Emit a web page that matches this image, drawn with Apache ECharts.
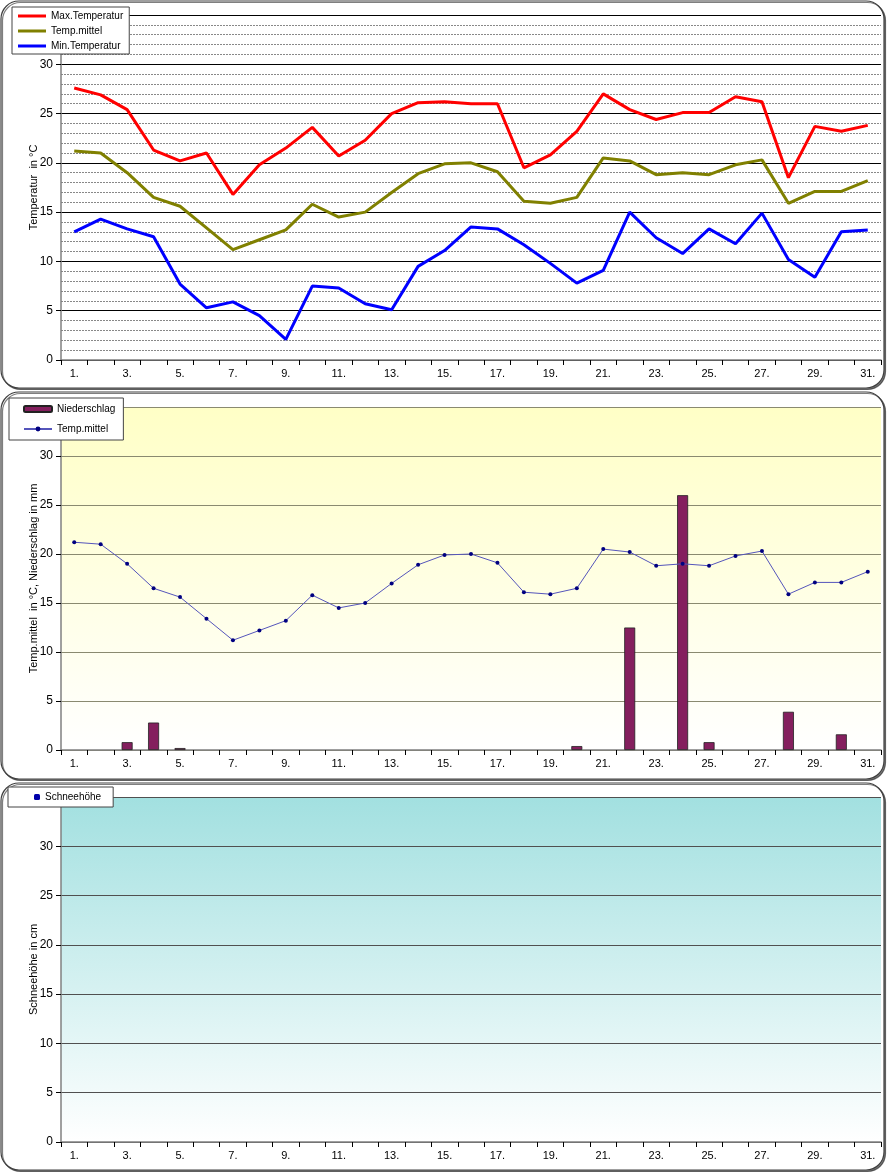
<!DOCTYPE html>
<html><head><meta charset="utf-8">
<script src="https://cdn.jsdelivr.net/npm/echarts@6/dist/echarts.min.js"></script>
<style>html,body{margin:0;padding:0;background:#fff}#c{width:887px;height:1173px}</style>
</head><body><div id="c"></div>
<script>
const days = Array.from({length:31},(_,i)=>String(i+1));
const tMax = [27.6,26.9,25.4,21.3,20.2,21.0,16.8,19.8,21.5,23.6,20.7,22.3,25.0,26.1,26.2,26.0,26.0,19.5,20.8,23.2,27.0,25.4,24.4,25.1,25.1,26.7,26.2,18.5,23.7,23.2,23.8];
const tMean = [21.2,21.0,19.0,16.5,15.6,13.4,11.2,12.2,13.2,15.8,14.5,15.0,17.0,18.9,19.9,20.0,19.1,16.1,15.9,16.5,20.5,20.2,18.8,19.0,18.8,19.8,20.3,15.9,17.1,17.1,18.2];
const tMin = [13.0,14.3,13.3,12.5,7.7,5.3,5.9,4.5,2.1,7.5,7.3,5.7,5.1,9.5,11.1,13.5,13.3,11.7,9.8,7.8,9.1,15.0,12.4,10.8,13.3,11.8,14.9,10.2,8.4,13.0,13.2];
const precip = [0,0,0.8,2.8,0.2,0,0,0,0,0,0,0,0,0,0,0,0,0,0,0.4,0,12.5,0,26.0,0.8,0,0,3.9,0,1.6,0];
const snow = [0,0,0,0,0,0,0,0,0,0,0,0,0,0,0,0,0,0,0,0,0,0,0,0,0,0,0,0,0,0,0];
const yTicks = [0,5,10,15,20,25,30];

const font = 'Liberation Sans, Arial, sans-serif';
const chart = echarts.init(document.getElementById('c'), null, {renderer:'canvas'});
const noZero = arr => arr.map(v => v === 0 ? null : v);

function xAxis(gi){
  return {type:'category', gridIndex:gi, data:days, boundaryGap:true,
    axisLine:{lineStyle:{color:'#808080',width:1.5}},
    axisTick:{show:true,interval:0,length:5,inside:false,lineStyle:{color:'#000'}},
    axisLabel:{interval:1,formatter:v=>v+'.',color:'#000',fontFamily:font,fontSize:11,margin:8}};
}
function yAxis(gi,name,major,minor){
  return {type:'value', gridIndex:gi, min:0, max:35, interval:5, name:name,
    nameLocation:'middle', nameGap:22, nameMoveOverlap:false,
    nameTextStyle:{color:'#000',fontFamily:font,fontSize:11},
    axisLine:{show:true,lineStyle:{color:'#808080',width:1.5}},
    axisTick:{show:true,length:5,lineStyle:{color:'#000'}},
    axisLabel:{color:'#000',fontFamily:font,fontSize:12,margin:8,
      formatter:v=>yTicks.indexOf(v)>=0?String(v):''},
    splitLine:{show:true,lineStyle:major},
    minorTick:{show:false,splitNumber:5},
    minorSplitLine:{show:!!minor,lineStyle:minor||{}}};
}

const panel = (y)=>({type:'rect',z:-10,shape:{x:1,y:y,width:883,height:387,r:18},
  style:{fill:'#fff',stroke:'#404040',lineWidth:1.2,shadowColor:'rgba(0,0,0,0.5)',shadowOffsetX:1.5,shadowOffsetY:1.5,shadowBlur:0}});

const legendText = {color:'#000',fontFamily:font,fontSize:10};

chart.setOption({
  animation:false,
  backgroundColor:'#fff',
  graphic:[panel(1),panel(392),panel(783)],
  grid:[
    {left:61,top:15,width:820,height:345,containLabel:false},
    {left:61,top:407,width:820,height:343,show:true,borderWidth:0,
      backgroundColor:new echarts.graphic.LinearGradient(0,0,0,1,[{offset:0,color:'#FFFFC6'},{offset:1,color:'#FFFFFF'}])},
    {left:61,top:797,width:820,height:345,show:true,borderWidth:0,
      backgroundColor:new echarts.graphic.LinearGradient(0,0,0,1,[{offset:0,color:'#A2E0E0'},{offset:1,color:'#FFFFFF'}])}
  ],
  xAxis:[xAxis(0),xAxis(1),xAxis(2)],
  yAxis:[
    yAxis(0,'Temperatur  in °C',{color:'#000',width:1.2},{color:'#888',type:[2,1],width:1}),
    yAxis(1,'Temp.mittel  in °C, Niederschlag in mm',{color:'#8a8a70',width:1.2},null),
    yAxis(2,'Schneehöhe in cm',{color:'#505050',width:1.2},null)
  ],
  legend:[
    {orient:'vertical',left:12,top:7,padding:[4,6,3,6],itemGap:5,itemWidth:28,itemHeight:3,icon:'rect',
      backgroundColor:'#fff',borderColor:'#444',borderWidth:1,textStyle:legendText,
      data:['Max.Temperatur','Temp.mittel ','Min.Temperatur']},
    {orient:'vertical',left:9,top:398,padding:[6,8,6,14],itemGap:10,itemWidth:28,itemHeight:6,
      backgroundColor:'#fff',borderColor:'#444',borderWidth:1,textStyle:legendText,
      data:['Niederschlag','Temp.mittel']},
    {orient:'vertical',left:8,top:787,padding:[5,12,5,26],itemWidth:6,itemHeight:6,
      backgroundColor:'#fff',borderColor:'#444',borderWidth:1,textStyle:legendText,
      data:['Schneehöhe']}
  ],
  series:[
    {name:'Max.Temperatur',type:'line',xAxisIndex:0,yAxisIndex:0,data:tMax,symbol:'none',
      lineStyle:{color:'#FF0000',width:3},itemStyle:{color:'#FF0000'}},
    {name:'Temp.mittel ',type:'line',xAxisIndex:0,yAxisIndex:0,data:tMean,symbol:'none',
      lineStyle:{color:'#808000',width:3},itemStyle:{color:'#808000'}},
    {name:'Min.Temperatur',type:'line',xAxisIndex:0,yAxisIndex:0,data:tMin,symbol:'none',
      lineStyle:{color:'#0000FF',width:3},itemStyle:{color:'#0000FF'}},
    {name:'Niederschlag',type:'bar',xAxisIndex:1,yAxisIndex:1,data:noZero(precip),barWidth:11,
      itemStyle:{color:'#841F5E',borderColor:'#222',borderWidth:0.8}},
    {name:'Temp.mittel',type:'line',xAxisIndex:1,yAxisIndex:1,data:tMean,symbol:'circle',symbolSize:4,
      lineStyle:{color:'#5555BB',width:1},itemStyle:{color:'#000080'}},
    {name:'Schneehöhe',type:'bar',xAxisIndex:2,yAxisIndex:2,data:noZero(snow),barWidth:11,
      itemStyle:{color:'#0000AA'}}
  ]
});
</script></body></html>
